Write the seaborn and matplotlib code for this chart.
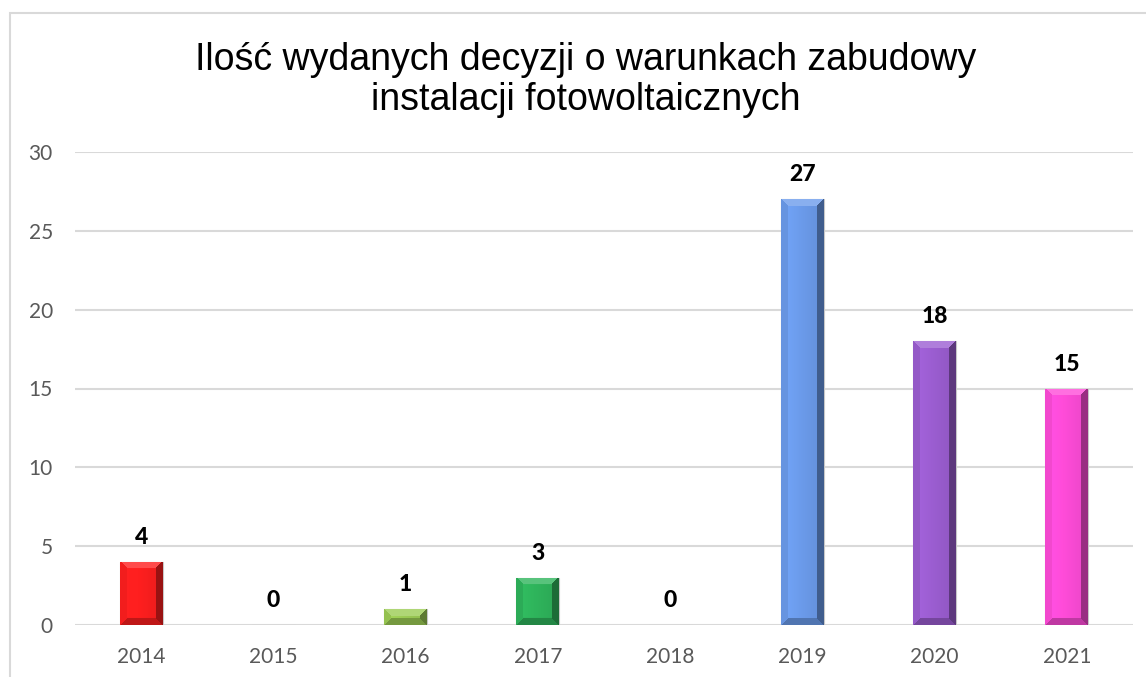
import numpy as np
import pandas as pd
import seaborn as sns
import matplotlib.pyplot as plt
from matplotlib.patches import Rectangle
from matplotlib.colors import to_rgb

years = ["2014", "2015", "2016", "2017", "2018", "2019", "2020", "2021"]
counts = [4, 0, 1, 3, 0, 27, 18, 15]
colors = ["#ff1f1f", "#c0c0c0", "#9ccc55", "#2fb55c", "#c0c0c0", "#6c9cec", "#9c5ed2", "#ff4cd9"]
title = "Ilość wydanych decyzji o warunkach zabudowy\ninstalacji fotowoltaicznych"

df = pd.DataFrame({"rok": years, "liczba": counts})

sns.set_style("white")
plt.rcParams["font.family"] = ["Lato", "DejaVu Sans"]

fig = plt.figure(figsize=(11.46, 6.77), dpi=100)
ax = fig.add_axes([75 / 1146, 1 - 625 / 677, 1058 / 1146, (625 - 152) / 677])

sns.barplot(data=df, x="rok", y="liczba", hue="rok", palette=colors,
            legend=False, width=0.325, ax=ax, saturation=1, edgecolor="#c8c8c8", linewidth=0.8)

ax.set_ylim(0, 30)
ax.set_xlim(-0.5, 7.5)
ax.set_yticks(range(0, 31, 5))
ax.set_xlabel("")
ax.set_ylabel("")
ax.grid(axis="y", color="#d9d9d9", linewidth=1.5)
ax.set_axisbelow(True)
for s in ax.spines.values():
    s.set_visible(False)
ax.tick_params(axis="both", length=0, labelsize=15, colors="#595959", pad=16)

# bevel shading on every bar
fig.canvas.draw()
bevel = 7
for patch, c in zip(ax.patches, colors):
    bb = patch.get_window_extent()
    w, h = int(round(bb.width)), int(round(bb.height))
    if w < 2 or h < 2:
        continue
    base = np.array(to_rgb(c))
    yy, xx = np.mgrid[0:h, 0:w]
    d = np.stack([xx, w - 1 - xx, yy, h - 1 - yy])
    side = d.argmin(axis=0)
    dmin = d.min(axis=0)
    shade = np.array([0.95, 0.6, 1.1, 0.75])[side]
    # soft horizontal gradient inside the face
    face = 1.06 - 0.14 * (xx / max(w - 1, 1))
    f = np.where(dmin < bevel, shade, face)
    img = np.clip(base[None, None, :] * f[..., None], 0, 1)
    img = np.where((dmin < bevel)[..., None] & (side == 2)[..., None],
                   np.clip(base + (1 - base) * 0.2, 0, 1), img)
    x0, x1 = patch.get_x(), patch.get_x() + patch.get_width()
    y0, y1 = patch.get_y(), patch.get_y() + patch.get_height()
    im = ax.imshow(img, extent=(x0, x1, y0, y1), aspect="auto", origin="upper", zorder=2.5)
    im.set_clip_path(patch)

ax.set_ylim(0, 30)
ax.set_xlim(-0.5, 7.5)

for cont in ax.containers:
    ax.bar_label(cont, fmt="%d", padding=10, fontsize=16.5, fontweight="black", color="black")

fig.text(586 / 1146, 1 - 80 / 677, title, ha="center", va="center", fontsize=27,
         family=["Liberation Sans", "DejaVu Sans"], color="black", linespacing=1.15)

fig.patches.append(Rectangle((10 / 1146, -0.1), 1.2, 1 - 13 / 677 + 0.1,
                             transform=fig.transFigure, fill=False,
                             edgecolor="#d9d9d9", linewidth=1.5))

fig.savefig("out.png", dpi=100)
